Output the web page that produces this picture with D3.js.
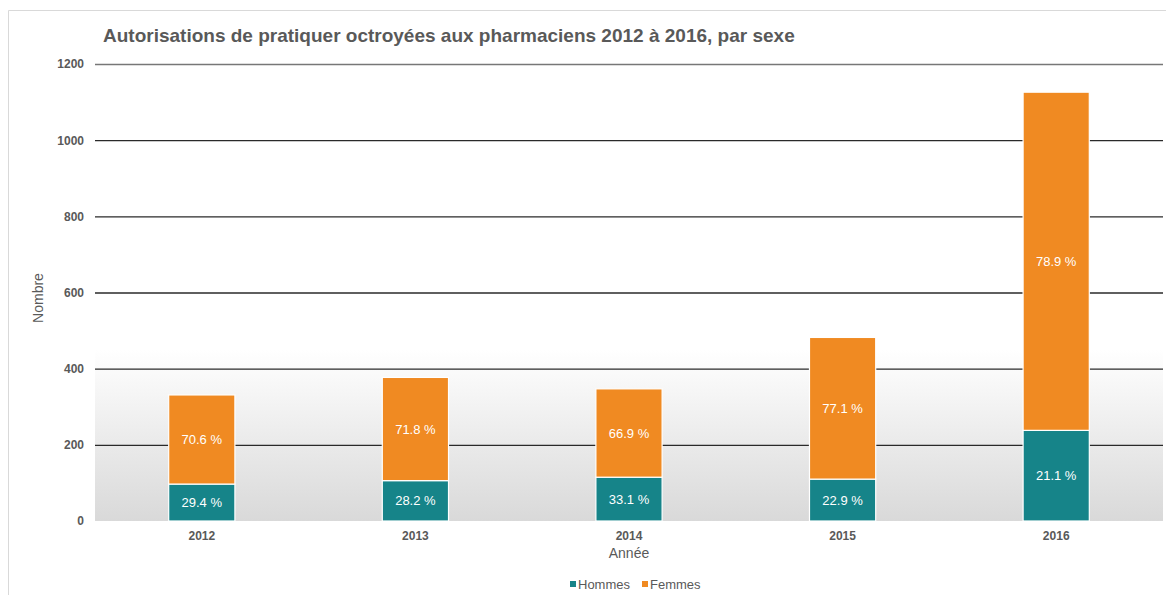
<!DOCTYPE html>
<html>
<head>
<meta charset="utf-8">
<script src="https://cdn.jsdelivr.net/npm/d3@7"></script>
<style>
  body { margin: 0; background: #fff; }
  text { font-family: 'Liberation Sans', Arial, sans-serif; }
</style>
</head>
<body>
<div id="app"></div>
<script>
  // data
  const years = ['2012', '2013', '2014', '2015', '2016']
  const hommes = [97, 106, 115, 110, 238]
  const femmes = [234, 271, 232, 372, 888]
  const hommesPct = ['29.4 %', '28.2 %', '33.1 %', '22.9 %', '21.1 %']
  const femmesPct = ['70.6 %', '71.8 %', '66.9 %', '77.1 %', '78.9 %']
  const yTicks = [0, 200, 400, 600, 800, 1000, 1200]
  const seriesNames = ['Hommes', 'Femmes']
  const colors = ['#168489', '#f08a22']

  const w = 1166
  const h = 595
  const plotLeft = 95
  const plotRight = 1163
  const plotTop = 64
  const plotBottom = 521
  const grey = '#595959'

  const svg = d3.select('#app').append('svg')
    .attr('width', w)
    .attr('height', h)

  // chart frame
  svg.append('path')
    .attr('d', `M8.5,${h} V10.5 H${w}`)
    .attr('fill', 'none')
    .attr('stroke', '#d9d9d9')

  // gradient in the lower part of the plot
  const defs = svg.append('defs')
  const grad = defs.append('linearGradient')
    .attr('id', 'bg')
    .attr('x1', 0).attr('y1', 0).attr('x2', 0).attr('y2', 1)
  grad.append('stop').attr('offset', '0%').attr('stop-color', '#ffffff')
  grad.append('stop').attr('offset', '100%').attr('stop-color', '#d9d9d9')

  const x = d3.scaleBand()
    .domain(years)
    .range([plotLeft, plotRight])
    .paddingInner(0.69)
    .paddingOuter(0.345)

  const y = d3.scaleLinear()
    .domain([0, 1200])
    .range([plotBottom, plotTop])

  svg.append('rect')
    .attr('x', plotLeft)
    .attr('y', y(450))
    .attr('width', plotRight - plotLeft)
    .attr('height', plotBottom - y(450))
    .attr('fill', 'url(#bg)')

  // gridlines + y tick labels
  const yAxis = d3.axisLeft(y)
    .tickValues(yTicks)
    .tickFormat(d3.format('d'))
    .tickSize(-(plotRight - plotLeft))
    .tickPadding(11)
  const gy = svg.append('g')
    .attr('transform', `translate(${plotLeft},0)`)
    .call(yAxis)
  gy.select('.domain').remove()
  gy.selectAll('.tick line')
    .attr('stroke', (d) => d === 1200 ? '#777' : '#2a2a2a')
    .attr('stroke-width', 1.3)
    .attr('opacity', (d) => d === 0 ? 0 : 1)
  gy.selectAll('.tick text')
    .attr('fill', grey)
    .style('font-size', '12px')
    .style('font-weight', 'bold')

  // stacked bars
  const table = years.map((yr, i) => ({ year: yr, Hommes: hommes[i], Femmes: femmes[i] }))
  const stacked = d3.stack().keys(seriesNames)(table)
  const labels = [hommesPct, femmesPct]

  stacked.forEach((layer, k) => {
    const g = svg.append('g')
    g.selectAll('rect')
      .data(layer)
      .enter()
      .append('rect')
      .attr('x', (d) => x(d.data.year))
      .attr('y', (d) => y(d[1]))
      .attr('width', x.bandwidth())
      .attr('height', (d) => y(d[0]) - y(d[1]))
      .attr('fill', colors[k])
      .attr('stroke', '#fff')
      .attr('stroke-width', 1.2)
    g.selectAll('text')
      .data(layer)
      .enter()
      .append('text')
      .attr('x', (d) => x(d.data.year) + x.bandwidth() / 2)
      .attr('y', (d) => (y(d[0]) + y(d[1])) / 2 + 4.5)
      .attr('text-anchor', 'middle')
      .attr('fill', '#fff')
      .style('font-size', '13px')
      .text((d, i) => labels[k][i])
  })

  // x labels
  const xAxis = d3.axisBottom(x).tickSize(0).tickPadding(10)
  const gx = svg.append('g')
    .attr('transform', `translate(0,${plotBottom})`)
    .call(xAxis)
  gx.select('.domain').remove()
  gx.selectAll('.tick text')
    .attr('fill', grey)
    .style('font-size', '12px')
    .style('font-weight', 'bold')

  // axis titles
  svg.append('text')
    .attr('x', (plotLeft + plotRight) / 2)
    .attr('y', 558)
    .attr('text-anchor', 'middle')
    .attr('fill', grey)
    .style('font-size', '14px')
    .text('Année')

  svg.append('text')
    .attr('transform', 'translate(43,298) rotate(-90)')
    .attr('text-anchor', 'middle')
    .attr('fill', grey)
    .style('font-size', '14px')
    .text('Nombre')

  // title
  svg.append('text')
    .attr('x', 103)
    .attr('y', 42)
    .attr('fill', grey)
    .style('font-size', '19px')
    .style('font-weight', 'bold')
    .text('Autorisations de pratiquer octroyées aux pharmaciens 2012 à 2016, par sexe')

  // legend
  const legendX = [570, 642]
  const legend = svg.append('g')
  seriesNames.forEach((name, i) => {
    legend.append('rect')
      .attr('x', legendX[i])
      .attr('y', 581)
      .attr('width', 6)
      .attr('height', 6)
      .attr('fill', colors[i])
    legend.append('text')
      .attr('x', legendX[i] + 8)
      .attr('y', 589)
      .attr('fill', grey)
      .style('font-size', '13px')
      .text(name)
  })
</script>
</body>
</html>
